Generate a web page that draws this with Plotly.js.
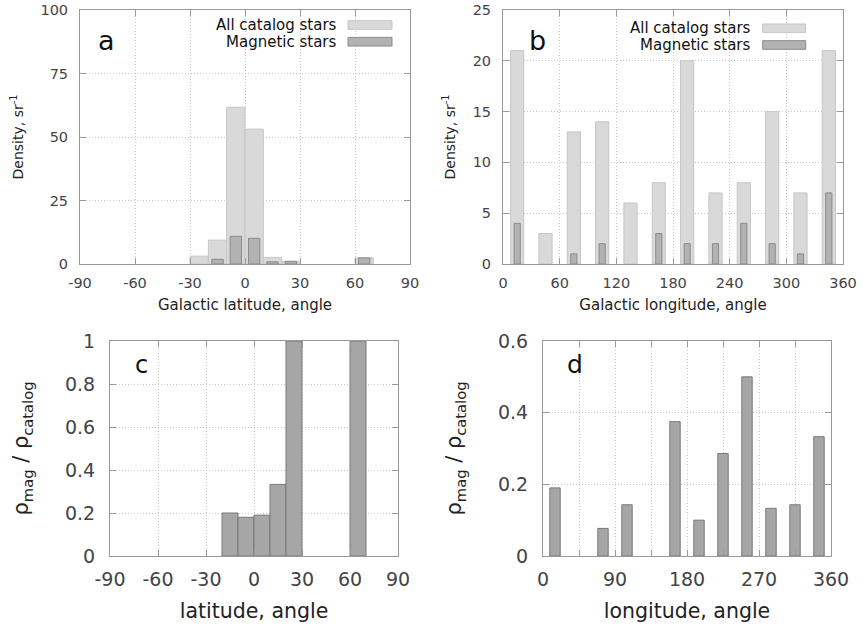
<!DOCTYPE html>
<html>
<head>
<meta charset="utf-8">
<script src="https://cdn.plot.ly/plotly-3.0.1.min.js"></script>
<style>html,body{margin:0;padding:0;background:#fff;}#chart{width:863px;height:631px;}</style>
</head>
<body>
<div id="chart"></div>
<script>
// Panel a: galactic latitude bins (centres, degrees)
const latCenters = [-25, -15, -5, 5, 15, 25, 65];
const latAll = [3.1, 9.4, 61.7, 53.1, 2.6, 1.05, 2.4];
const latMag = [0, 1.85, 10.9, 10.1, 0.87, 1.05, 2.4];
// Panel b: galactic longitude bins
const lonCenters = [15, 45, 75, 105, 135, 165, 195, 225, 255, 285, 315, 345];
const lonAll = [21, 3, 13, 14, 6, 8, 20, 7, 8, 15, 7, 21];
const lonMag = [4, 0, 1, 2, 0, 3, 2, 2, 4, 2, 1, 7];
// Panel c: ratio vs latitude
const ratioLatCenters = [-15, -5, 5, 15, 25, 65];
const ratioLat = [0.2, 0.18, 0.19, 0.333, 1, 1];
// Panel d: ratio vs longitude
const ratioLonCenters = [15, 75, 105, 165, 195, 225, 255, 285, 315, 345];
const ratioLon = [0.19, 0.077, 0.143, 0.375, 0.1, 0.286, 0.5, 0.133, 0.143, 0.333];

// tick labels
const latTicks = [-90, -60, -30, 0, 30, 60, 90];
const latTickText = ['-90', '-60', '-30', '0', '30', '60', '90'];
const lonTicksB = [0, 60, 120, 180, 240, 300, 360];
const lonTicksD = [0, 45, 90, 135, 180, 225, 270, 315, 360];
const lonTickTextD = ['0', '', '90', '', '180', '', '270', '', '360'];
const densTicksA = [0, 25, 50, 75, 100];
const densTicksB = [0, 5, 10, 15, 20, 25];
const ratioTicksC = [0, 0.2, 0.4, 0.6, 0.8, 1];
const ratioTickTextC = ['0', '0.2', '0.4', '0.6', '0.8', '1'];
const ratioTicksD = [0, 0.2, 0.4, 0.6];
const ratioTickTextD = ['0', '0.2', '0.4', '0.6'];

const legendLabels = ['All catalog stars', 'Magnetic stars'];
const panelLabels = ['a', 'b', 'c', 'd'];

const lightFill = '#d9d9d9', lightLine = '#c6c6c6';
const darkFill = '#b2b2b2', darkLine = '#8a8a8a';
const ratioFill = '#a6a6a6', ratioLine = '#787878';

const FONT = 'DejaVu Sans, Verdana, sans-serif';
const lw = vals => vals.map(v => (v > 0 ? 1 : 0));

const traces = [
  {type:'bar', x:latCenters, y:latAll, width:10, xaxis:'x', yaxis:'y', name:legendLabels[0],
   marker:{color:lightFill, line:{color:lightLine, width:lw(latAll)}}, showlegend:false},
  {type:'bar', x:latCenters, y:latMag, width:6.2, xaxis:'x', yaxis:'y', name:legendLabels[1],
   marker:{color:darkFill, line:{color:darkLine, width:lw(latMag)}}, showlegend:false},
  {type:'bar', x:lonCenters, y:lonAll, width:14, xaxis:'x2', yaxis:'y2', name:legendLabels[0],
   marker:{color:lightFill, line:{color:lightLine, width:lw(lonAll)}}, showlegend:false},
  {type:'bar', x:lonCenters, y:lonMag, width:6.5, xaxis:'x2', yaxis:'y2', name:legendLabels[1],
   marker:{color:darkFill, line:{color:darkLine, width:lw(lonMag)}}, showlegend:false},
  {type:'bar', x:ratioLatCenters, y:ratioLat, width:10, xaxis:'x3', yaxis:'y3',
   marker:{color:ratioFill, line:{color:ratioLine, width:1}}, showlegend:false},
  {type:'bar', x:ratioLonCenters, y:ratioLon, width:13, xaxis:'x4', yaxis:'y4',
   marker:{color:ratioFill, line:{color:ratioLine, width:1}}, showlegend:false}
];

function ax(opts, fontSize, lblStand) {
  return Object.assign({
    showline:true, linecolor:'#999', linewidth:1, mirror:'ticks',
    ticks:'inside', ticklen:6, tickcolor:'#999', tickwidth:1,
    showgrid:true, gridcolor:'#c8c8c8', griddash:'1px,2px', gridwidth:1,
    zeroline:false, tickfont:{family:FONT, size:fontSize, color:'#444'},
    ticklabelstandoff:lblStand, fixedrange:true
  }, opts);
}

const W = 863, H = 631;
const dx = (a, b) => [a / W, b / W];
const dy = (top, bottom) => [1 - bottom / H, 1 - top / H];

const topTitle = (t, s) => ({text:t, font:{size:15, color:'#222'}, standoff:s});
const botTitle = (t, s) => ({text:t, font:{size:20.5, color:'#222'}, standoff:s});
const yTitleTop = () => ({text:'Density, sr<sup>-1</sup>', font:{size:14, color:'#222'}, standoff:13});
const yTitleBot = () => ({text:'ρ<sub>mag</sub> / ρ<sub>catalog</sub>', font:{size:21, color:'#222'}, standoff:30});

const layout = {
  width:W, height:H, margin:{l:0, r:0, t:0, b:0},
  paper_bgcolor:'#fff', plot_bgcolor:'#fff', barmode:'overlay', bargap:0,
  font:{family:FONT, color:'#222'},
  xaxis: ax({domain:dx(80, 410), range:[-90, 90], tickvals:latTicks, ticktext:latTickText, anchor:'y',
    title:topTitle('Galactic latitude, angle', 9)}, 14.5, 6),
  yaxis: ax({domain:dy(10, 264), range:[0, 100], tickvals:densTicksA, anchor:'x',
    title:yTitleTop()}, 14.5, 8),
  xaxis2: ax({domain:dx(503, 843), range:[0, 360], tickvals:lonTicksB, anchor:'y2',
    title:topTitle('Galactic longitude, angle', 9)}, 14.5, 6),
  yaxis2: ax({domain:dy(10, 264), range:[0, 25], tickvals:densTicksB, anchor:'x2',
    title:yTitleTop()}, 14.5, 8),
  xaxis3: ax({domain:dx(110, 398), range:[-90, 90], tickvals:latTicks, ticktext:latTickText, anchor:'y3',
    title:botTitle('latitude, angle', 14)}, 19, 6),
  yaxis3: ax({domain:dy(341, 556), range:[0, 1], tickvals:ratioTicksC, ticktext:ratioTickTextC, anchor:'x3',
    title:yTitleBot()}, 19, 10),
  xaxis4: ax({domain:dx(543, 831), range:[0, 360], tickvals:lonTicksD, ticktext:lonTickTextD, anchor:'y4',
    title:botTitle('longitude, angle', 14)}, 19, 6),
  yaxis4: ax({domain:dy(341, 556), range:[0, 0.6], tickvals:ratioTicksD, ticktext:ratioTickTextD, anchor:'x4',
    title:yTitleBot()}, 19, 10),
  annotations:[], shapes:[]
};

// panel letters
const letterPos = [['x','y',0.08,0.88,27],['x2','y2',0.1,0.88,27],['x3','y3',0.11,0.887,24],['x4','y4',0.11,0.893,25]];
letterPos.forEach((p, i) => {
  layout.annotations.push({xref:p[0]+' domain', yref:p[1]+' domain', x:p[2], y:p[3], text:panelLabels[i],
    showarrow:false, xanchor:'center', yanchor:'middle', font:{family:FONT, size:p[4], color:'#111'}});
});

// key (text left, swatch right) for top panels
function addKey(xa, ya, textRightFrac, swL, swR, rows) {
  legendLabels.forEach((lab, i) => {
    const yc = rows[i];
    layout.annotations.push({xref:xa+' domain', yref:ya+' domain', x:textRightFrac, y:yc, text:lab,
      showarrow:false, xanchor:'right', yanchor:'middle', font:{family:FONT, size:15, color:'#111'}});
    layout.shapes.push({type:'rect', xref:xa+' domain', yref:ya+' domain', x0:swL, x1:swR,
      y0:yc - 0.017, y1:yc + 0.017, fillcolor:i === 0 ? lightFill : darkFill,
      line:{color:i === 0 ? lightLine : darkLine, width:1}});
  });
}
addKey('x','y', (339-80)/330, (348-80)/330, (392-80)/330, [1-(25-10)/254, 1-(41.7-10)/254]);
addKey('x2','y2', (753-503)/340, (762.7-503)/340, (805.7-503)/340, [1-(28.3-10)/254, 1-(45-10)/254]);

Plotly.newPlot('chart', traces, layout, {staticPlot:true, displayModeBar:false});
</script>
</body>
</html>
